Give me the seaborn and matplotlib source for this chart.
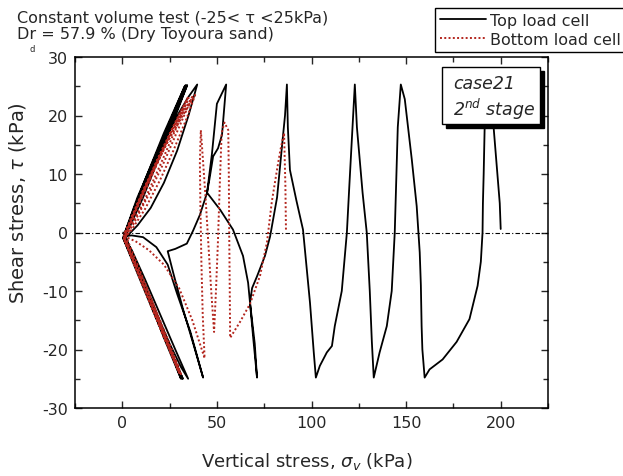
import pandas as pd
import seaborn as sns
import matplotlib.pyplot as plt
from matplotlib.ticker import MultipleLocator
from matplotlib.patches import Rectangle

# Top load cell: stress path (time order)
top_sigma = [200, 199.5, 197.5, 196, 195, 194, 193, 191.5, 191, 190.6, 190.4, 189.5, 187.8, 183.5, 176.7,
             169.3, 162.4, 159.8,
             158.6, 158.2, 157.8, 157.2, 155.6, 153, 149.3, 147.2,
             145.6, 144.8, 144, 142.4, 139.8, 136, 132.9,
             131.9, 130.8, 129.2, 127, 124, 122.9,
             121.5, 120, 118.7, 116, 112.3, 110.8, 108.1, 104.4, 102.3,
             101.2, 99.2, 95.5, 92, 88.6, 87.5, 87,
             86, 84.9, 81.8, 78.1, 75.4, 71.2, 68.6, 67.5, 69.1, 71.2,
             70, 67.5, 66.5, 63.8, 58.5, 51.7, 44.8,
             47.4, 50, 54.9, 52.7, 50.6, 48, 46, 44.8, 41, 37.4, 34.1, 28, 24,
             27, 32, 37.5, 42.7,
             36, 29, 24, 18, 11, 5, 1.2,
             6, 14, 22, 30, 35, 39.6,
             35, 29, 22, 15, 8, 2,
             9, 17, 25, 31, 34.8,
             28, 20, 12, 5, 1,
             7, 15, 23, 29, 34.3,
             27, 19, 11, 4, 0.5,
             8, 17, 25, 32,
             24, 15, 7, 1,
             8, 17, 25, 33.5,
             24, 14, 5, 0.5,
             10, 20, 26, 31.6,
             20, 8, 0.5,
             12, 22, 33,
             20, 8, 0.8,
             10, 22, 31,
             16, 3, 0.5]
top_tau = [0.6, 5, 13, 19, 23, 25.2, 22, 17.7, 10, 5, 0, -5, -9.1, -14.8, -18.7,
           -21.7, -23.4, -24.8,
           -20, -16, -9, -3.4, 4.5, 12.5, 22.8, 25.3,
           18, 9, 0, -10, -16, -20.5, -24.8,
           -18.7, -10, 0, 6.8, 18, 25.3,
           17, 8, 0, -10, -16, -19.4, -20.5, -22.8, -24.8,
           -20.5, -12, 0.5, 5.5, 10.7, 18, 25.3,
           20, 16.4, 6, -0.7, -4, -7.5, -9.5, -12, -17.7, -24.8,
           -19, -12, -8.6, -4, 0.5, 3.9, 6.8,
           13.5, 22, 25.3, 16.7, 14.4, 13, 9, 6.8, 3, 0.3, -1.9, -2.8, -3.2,
           -7, -13, -19, -24.8,
           -17, -10.5, -5.5, -2.5, -0.8, -0.5, -0.6,
           4, 10, 15.5, 20.5, 23.2, 25.3,
           20, 14, 8.5, 4.2, 1.2, -0.8,
           -7, -13, -19, -23, -25,
           -20, -14, -8, -3, -1,
           4, 10, 16, 21, 25.2,
           19, 12.5, 6, 1, -1,
           -7, -14, -20, -25,
           -19, -12, -5, -1,
           5, 12, 18, 25.2,
           18, 10, 3, -1,
           -8, -16, -20.5, -25,
           -16, -6, -0.8,
           9, 17, 25,
           15, 6, -0.5,
           -8, -18, -25,
           -12, -2, 0]

# Bottom load cell
bottom_sigma = [86.5, 86.2, 85.5, 83.5, 81.8, 79, 76.5, 72.8, 67.5, 62.2, 57,
                56.8, 56.5, 56.3, 56, 54, 52.5, 51.5, 50.5, 49.5, 48.5,
                47, 45.5, 44, 42.5, 41.5, 41, 41.3, 41.8, 42.5, 43.5,
                37, 30, 22, 14, 7, 2, 1.5,
                8, 16, 24, 32, 38.5,
                34, 27, 20, 12, 5, 1,
                7, 14, 21, 27, 31,
                25, 18, 10, 3, 0.5,
                7, 15, 23, 31, 37,
                30, 22, 14, 6, 1,
                8, 15, 22, 29, 30.5,
                24, 16, 8, 1.5,
                9, 18, 27, 35,
                28, 20, 11, 3, 0.8,
                9, 18, 26, 30,
                22, 13, 4, 1,
                10, 20, 29, 34.5,
                25, 14, 4, 1,
                12, 22, 29.5,
                15, 3, 1]
bottom_tau = [0.5, 8, 17, 14, 10.8, 5.2, -1.6, -7.4, -12.2, -15.3, -18,
              -10, 0, 10, 17.5, 18.8, 17, 8, -2, -10, -17,
              -10, -2, 6, 13, 17.5, 12, 4, -5, -14, -21.5,
              -15, -9.5, -5.5, -3, -1.5, -0.8, 0,
              5, 10.5, 15.5, 20, 23.5,
              19.5, 14, 9, 4, 0.5, -1,
              -6, -11.5, -17, -21.5, -24.2,
              -19, -13.5, -7.5, -2.5, -0.8,
              4, 9.5, 15, 20, 23.2,
              18, 12, 6.5, 1.5, -1,
              -6.5, -12, -17.5, -22.5, -24,
              -19, -12.5, -6, -1,
              5.5, 12, 18, 23,
              17.5, 11.5, 5, 0.3, -1.2,
              -7.5, -14.5, -20.5, -24,
              -17.5, -10, -3, -1,
              6.5, 13.5, 19.5, 23,
              16.5, 8.5, 1.5, -1,
              -10, -18, -23.5,
              -11, -1.5, 0]

top_df = pd.DataFrame({"sigma": top_sigma, "tau": top_tau})
bot_df = pd.DataFrame({"sigma": bottom_sigma, "tau": bottom_tau})

sns.set_style("ticks")
plt.rcParams["font.family"] = ["DejaVu Sans"]
plt.rcParams["mathtext.fontset"] = "dejavusans"
plt.rcParams["axes.unicode_minus"] = False

fig = plt.figure(figsize=(6.23, 4.77), dpi=100)
ax = fig.add_axes([75 / 623, 1 - 409 / 477, 473 / 623, 351 / 477])

ax.axhline(0, color="black", lw=0.8, ls=(0, (4, 2, 1, 2)), zorder=1)
sns.lineplot(data=top_df, x="sigma", y="tau", sort=False, estimator=None, color="black",
             lw=1.3, ax=ax, label="Top load cell", zorder=2)
sns.lineplot(data=bot_df, x="sigma", y="tau", sort=False, estimator=None, color="#b3261e",
             lw=1.4, linestyle=(0, (1, 1.2)), ax=ax, label="Bottom load cell", zorder=3)

ax.set_xlim(-25, 225)
ax.set_ylim(-30, 30)
ax.xaxis.set_major_locator(MultipleLocator(50))
ax.xaxis.set_minor_locator(MultipleLocator(25))
ax.yaxis.set_major_locator(MultipleLocator(10))
ax.yaxis.set_minor_locator(MultipleLocator(5))
ax.tick_params(which="both", direction="in", top=True, right=True, width=1, labelsize=11.5, pad=5)
ax.tick_params(which="major", length=5)
ax.tick_params(which="minor", length=3.5)
for s in ax.spines.values():
    s.set_linewidth(1.1)
    s.set_color("black")

ax.set_xlabel(r"Vertical stress, $\sigma_v$ (kPa)", fontsize=13)
ax.set_ylabel(r"Shear stress, $\tau$ (kPa)", fontsize=14)
ax.xaxis.set_label_coords(0.49, -0.12)
ax.yaxis.set_label_coords(-0.10, 0.587)

# legend outside, top right
h, l = ax.get_legend_handles_labels()
ax.get_legend().remove()
leg = fig.legend(h, l, loc="upper left", bbox_to_anchor=(435 / 623, 1 - 9 / 477),
                 frameon=True, fancybox=False, edgecolor="black", framealpha=1,
                 fontsize=11.5, handlelength=2.9, handletextpad=0.25, labelspacing=0.25,
                 borderpad=0.3, borderaxespad=0)
leg.get_frame().set_linewidth(1.0)

# header text
fig.text(17 / 623, 1 - 18 / 477, "Constant volume test (-25< τ <25kPa)", va="center", fontsize=11.5)
fig.text(17 / 623, 1 - 35 / 477, "Dr = 57.9 % (Dry Toyoura sand)", va="center", fontsize=11.5)
fig.text(30 / 623, 1 - 50 / 477, "d", va="center", fontsize=6)

# case box with drop shadow
bx0, bx1 = 0.776, 0.983
by0, by1 = 0.809, 0.972
dx, dy = 4 / 473, -4 / 351
ax.add_patch(Rectangle((bx0 + dx, by0 + dy), bx1 - bx0, by1 - by0, transform=ax.transAxes,
                       fc="black", ec="black", lw=1, zorder=9, clip_on=False))
ax.add_patch(Rectangle((bx0, by0), bx1 - bx0, by1 - by0, transform=ax.transAxes,
                       fc="white", ec="black", lw=1, zorder=10, clip_on=False))
ax.text(0.80, 0.925, "case21", transform=ax.transAxes, ha="left", va="center",
        style="italic", fontsize=12.5, zorder=11)
ax.text(0.80, 0.853, "2$^{nd}$ stage", transform=ax.transAxes, ha="left", va="center",
        style="italic", fontsize=12.5, zorder=11)

plt.savefig("out.png", dpi=100)
